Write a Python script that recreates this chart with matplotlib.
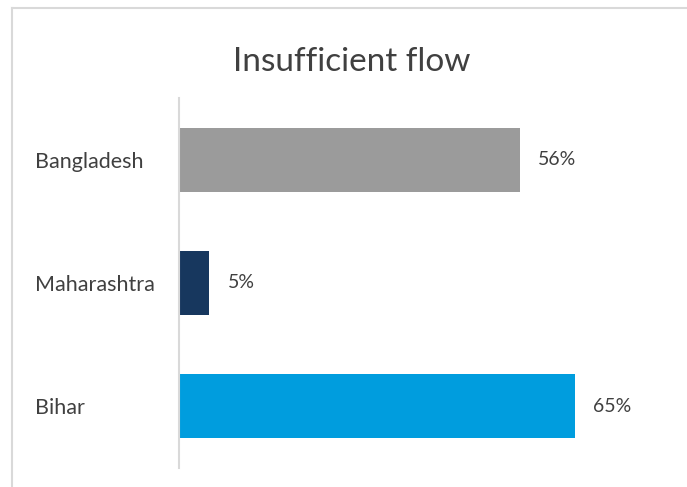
import matplotlib
matplotlib.use("Agg")
import matplotlib.pyplot as plt
from matplotlib.lines import Line2D

categories = ["Bihar", "Maharashtra", "Bangladesh"]
values = [65, 5, 56]
colors = ["#009DDE", "#17375E", "#9B9B9B"]
title = "Insufficient flow"

plt.rcParams['font.family'] = ['Lato', 'DejaVu Sans']
W, H = 687, 487
fig = plt.figure(figsize=(W/100, H/100), dpi=100)
ax = fig.add_axes([179/W, 1-468/H, (666-179)/W, 370/H])

y = list(range(len(categories)))
ax.barh(y, values, height=0.52, color=colors)
ax.set_xlim(0, 80)
ax.set_ylim(-0.5, len(categories)-0.5)
ax.set_xticks([])
ax.set_yticks(y)
ax.set_yticklabels(categories, fontsize=15.5, color="#404040")
for lab in ax.get_yticklabels():
    lab.set_horizontalalignment('left')
ax.tick_params(axis='y', length=0, pad=(179-35)*0.72)
for s in ['top', 'right', 'bottom']:
    ax.spines[s].set_visible(False)
ax.spines['left'].set_color('#D9D9D9')
ax.spines['left'].set_linewidth(1.5)

for yi, v in zip(y, values):
    ax.annotate(f"{v}%", (v, yi), xytext=(13, 0), textcoords='offset points',
                va='center', ha='left', fontsize=14, color="#404040")

fig.text(352/W, 1-62/H, title, ha='center', va='center', fontsize=24, color="#404040")

fig.add_artist(Line2D([12.5/W, 12.5/W], [0, 1-8/H], color='#D9D9D9', lw=1.5))
fig.add_artist(Line2D([12.5/W, 1], [1-8/H, 1-8/H], color='#D9D9D9', lw=1.5))

fig.savefig("out.png", dpi=100)
